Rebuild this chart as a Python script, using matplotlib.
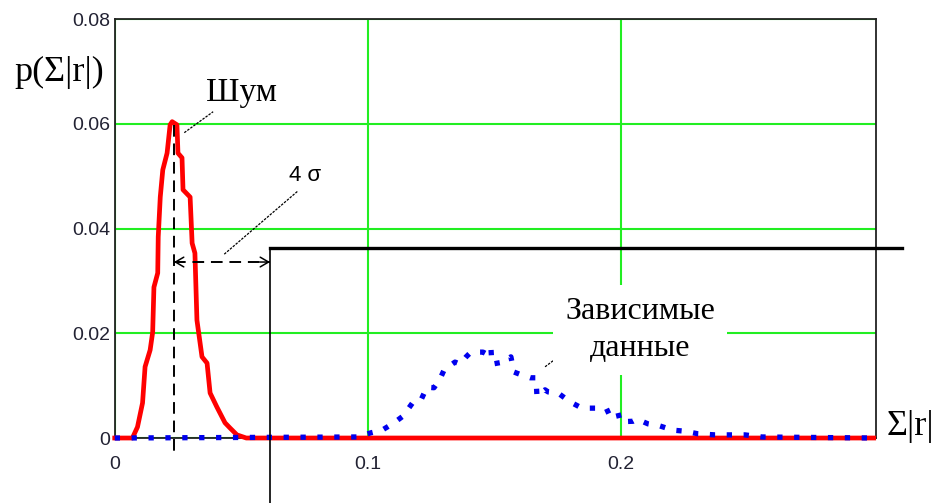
import matplotlib
matplotlib.use('Agg')
import matplotlib.pyplot as plt

# noise distribution (red)
noise_x = [0, 0.007, 0.009, 0.011, 0.012, 0.014, 0.015, 0.0155, 0.017, 0.0172, 0.018, 0.019,
           0.0207, 0.0219, 0.0227, 0.0246, 0.025, 0.0266, 0.027, 0.0298, 0.0306, 0.0317, 0.0325,
           0.0345, 0.0365, 0.0377, 0.0404, 0.0436, 0.0456, 0.0483, 0.052, 0.3]
noise_y = [0, 0, 0.0021, 0.0067, 0.0136, 0.0168, 0.0202, 0.0288, 0.0315, 0.0384, 0.046, 0.0512,
           0.0544, 0.0598, 0.0604, 0.0598, 0.0544, 0.0535, 0.0474, 0.046, 0.0372, 0.0353, 0.0225,
           0.0155, 0.0143, 0.0086, 0.0059, 0.0029, 0.0019, 0.0006, 0, 0]

# dependent data distribution (blue, dotted)
dep_x = [0, 0.096, 0.1013, 0.1057, 0.1104, 0.114, 0.1183, 0.1211, 0.1234, 0.1262, 0.1286, 0.1302,
         0.1345, 0.1365, 0.1389, 0.1408, 0.1456, 0.1471, 0.1487, 0.1491, 0.1535, 0.1566, 0.1578,
         0.161, 0.1642, 0.1665, 0.1669, 0.1701, 0.1713, 0.1752, 0.18, 0.1847, 0.1903, 0.1934,
         0.1974, 0.1986, 0.1998, 0.2049, 0.2065, 0.2108, 0.2155, 0.2207, 0.2254, 0.2306, 0.2373,
         0.2436, 0.2491, 0.2558, 0.3]
dep_y = [0, 0.0002, 0.001, 0.0015, 0.0029, 0.0042, 0.0071, 0.0073, 0.0097, 0.0096, 0.0113, 0.013,
         0.0145, 0.0141, 0.0155, 0.0164, 0.0164, 0.016, 0.0172, 0.0141, 0.0145, 0.0155, 0.0126,
         0.012, 0.0115, 0.0115, 0.008, 0.0092, 0.0088, 0.0086, 0.0069, 0.0057, 0.0057, 0.0048,
         0.0057, 0.0055, 0.0031, 0.0032, 0.0036, 0.0027, 0.0023, 0.0015, 0.0013, 0.0008, 0.0006,
         0.0006, 0.0006, 0.0002, 0]

x_ticks = [0, 0.1, 0.2]
x_tick_labels = ['0', '0.1', '0.2']
y_ticks = [0, 0.02, 0.04, 0.06, 0.08]
y_tick_labels = ['0', '0.02', '0.04', '0.06', '0.08']

noise_center = 0.0234   # dashed vertical
threshold = 0.0614      # 4 sigma level
thr_level = 0.0363
arrow_y = 0.0336

serif = 'Liberation Serif'
sans = 'Liberation Sans'

fig = plt.figure(figsize=(9.38, 5.03), dpi=100)
ax = fig.add_axes([0.1223, 0.1292, 0.8113, 0.8330])
ax.set_xlim(0, 0.3008)
ax.set_ylim(0, 0.08)

ax.set_xticks(x_ticks)
ax.set_xticklabels(x_tick_labels)
ax.set_yticks(y_ticks)
ax.set_yticklabels(y_tick_labels)
ax.tick_params(length=0, labelsize=14, labelcolor='#222233')
ax.tick_params(axis='x', pad=13)
ax.tick_params(axis='y', pad=3)
for lbl in ax.get_xticklabels() + ax.get_yticklabels():
    lbl.set_family(sans)
ax.grid(True, color='#22ee22', lw=1.5)
ax.set_axisbelow(True)
for s in ax.spines.values():
    s.set_color('#222222')
    s.set_linewidth(1.3)

ax.plot(noise_x, noise_y, color='red', lw=3.4, zorder=3, clip_on=False)
ax.plot(dep_x, dep_y, color='#0000ee', lw=3.8, linestyle=(0, (1, 2.2)),
        dash_capstyle='butt', zorder=4, clip_on=False)

# threshold step
ax.plot([threshold, 0.311], [thr_level, thr_level], color='black', lw=2.4, clip_on=False, zorder=5)
ax.plot([threshold, threshold], [thr_level, -0.0125], color='black', lw=1.2, clip_on=False, zorder=5)

# dashed noise center line and 4 sigma arrow
ax.plot([noise_center, noise_center], [0.0598, -0.0037], color='black', lw=1.4,
        linestyle=(0, (6, 3.5)), clip_on=False, zorder=5)
ax.plot([noise_center, threshold], [arrow_y, arrow_y], color='black', lw=1.4,
        linestyle=(0, (6, 3.5)), zorder=5)
head = dict(arrowstyle='->,head_length=0.6,head_width=0.35', lw=1.1, shrinkA=0, shrinkB=0)
ax.annotate('', xy=(noise_center, arrow_y), xytext=(noise_center + 0.004, arrow_y),
            arrowprops=head, zorder=6)
ax.annotate('', xy=(threshold, arrow_y), xytext=(threshold - 0.004, arrow_y),
            arrowprops=head, zorder=6)

# labels with leader lines
lead = dict(color='black', lw=0.9, linestyle=(0, (2, 1)), zorder=6)
ax.plot([0.0275, 0.0389], [0.0583, 0.0623], **lead)
ax.plot([0.0433, 0.0725], [0.0351, 0.0472], **lead)
ax.plot([0.1701, 0.1831], [0.0136, 0.0183], **lead)

ax.text(0.0500, 0.0659, 'Шум', family=serif, fontsize=24, ha='center', va='center', zorder=7)
ax.text(0.0752, 0.0502, '4 σ', family=sans, fontsize=16, ha='center', va='center', zorder=7)
ax.text(0.2076, 0.0206, 'Зависимые\nданные', family=serif, fontsize=23, ha='center',
        va='center', linespacing=1.35, zorder=7,
        bbox=dict(facecolor='white', edgecolor='none', pad=9))
ax.text(0.3147, 0.0022, 'Σ|r|', family=serif, fontsize=26, ha='center', va='center')
fig.text(0.063, 0.855, 'p(Σ|r|)', family=serif, fontsize=26, ha='center', va='center')

fig.savefig('out.png', dpi=100)
